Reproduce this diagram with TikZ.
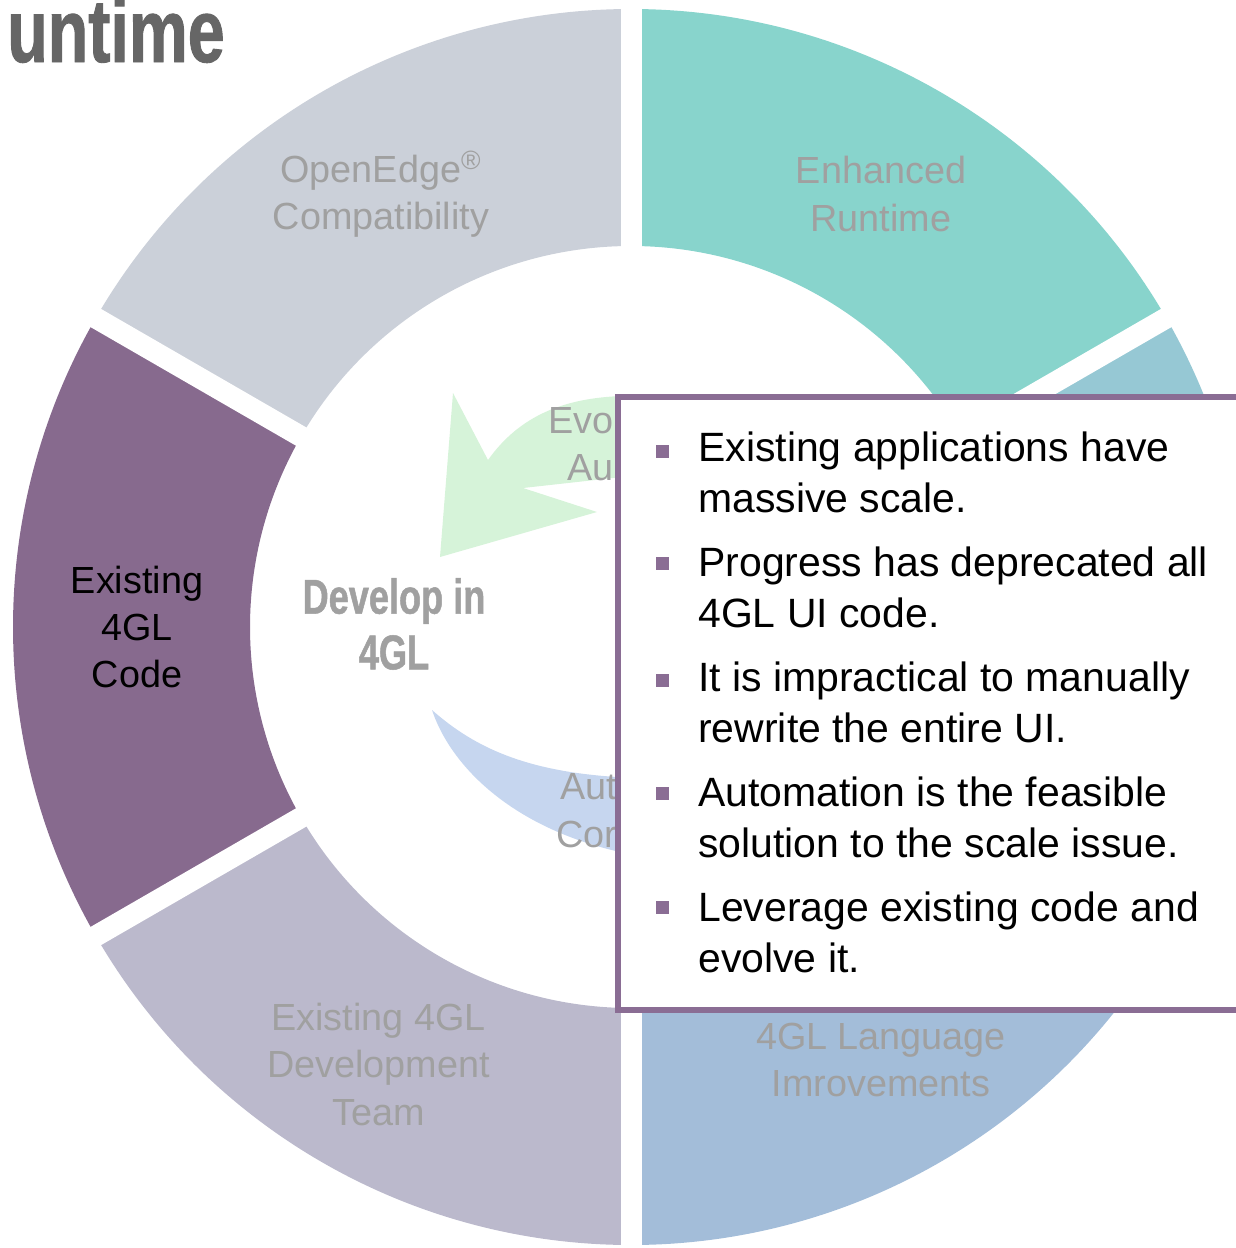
\documentclass[tikz,border=0pt]{standalone}
\usepackage{fontspec}
\setmainfont{Liberation Sans}
\newfontfamily\condfont{Liberation Sans}[FakeStretch=0.74,FakeBold=1]
\usetikzlibrary{positioning}

\definecolor{segcompat}{HTML}{CBD0D9}
\definecolor{segruntime}{HTML}{88D4CC}
\definecolor{segright}{HTML}{96C8D4}
\definecolor{seglang}{HTML}{A3BDD9}
\definecolor{segteam}{HTML}{BBB9CC}
\definecolor{segcode}{HTML}{876A8E}
\definecolor{fadetext}{HTML}{A0A0A0}
\definecolor{evolvefill}{HTML}{D6F3D9}
\definecolor{convertfill}{HTML}{C6D6EF}
\definecolor{callout}{HTML}{8A6D94}
\definecolor{titlegray}{HTML}{666666}

\tikzset{
  seglabel/.style={align=center, text=fadetext, inner sep=0pt, font=\fontsize{21.5}{26.9}\selectfont},
  bullettext/.style={anchor=base west, align=left, inner sep=0pt, font=\fontsize{23.3}{28.9}\selectfont},
  bulletsq/.style={fill=callout, minimum size=0.26cm, inner sep=0pt},
  ringgap/.style={white, line width=0.42cm},
}

\begin{document}
\begin{tikzpicture}[x=0.02cm, y=0.02cm]
\useasboundingbox (0,0) rectangle (1235,-1248);
\coordinate (c) at (631,-627);

% ring of six segments
\begin{scope}[shift={(c)}]
  \foreach \a/\col in {30/segruntime, 90/segcompat, 150/segcode, 210/segteam, 270/seglang, 330/segright}
    \fill[\col] (\a:618) arc[start angle=\a, end angle={\a+60}, radius=618]
      -- ({\a+60}:381) arc[start angle={\a+60}, end angle=\a, radius=381] -- cycle;
  \foreach \a in {30,90,...,330}
    \draw[ringgap] (\a:370) -- (\a:630);

  \node[seglabel] (compat) at (120:500) {OpenEdge\textsuperscript{\textregistered}\\Compatibility};
  \node[seglabel] (runtime) at (60:500) {Enhanced\\Runtime};
  \node[seglabel, text=black] (code) at (180:494) {Existing\\4GL\\Code};
  \node[seglabel] (team) at (240:505) {Existing 4GL\\Development\\Team};
  \node[seglabel] (lang) at (300:500) {4GL Language\\Imrovements};
\end{scope}

\node[anchor=base east, inner sep=0pt, text=titlegray, font=\condfont\bfseries\fontsize{51}{51}\selectfont] (title) at (225,-62) {untime};
\node[align=center, text=fadetext, inner sep=0pt, font=\condfont\bfseries\fontsize{27.8}{31.7}\selectfont] (develop) at (394,-624) {Develop in\\4GL};

% the two curved arrows
\fill[evolvefill] (453,-393) -- (440,-557) -- (597,-512) -- (523,-488) -- (640,-475) -- (640,-398)
  -- (622,-396) .. controls (565,-398) and (520,-415) .. (488,-460) -- cycle;
\node[seglabel, anchor=west] (evo) at (548,-421) {Evo};
\node[seglabel, anchor=west] (au) at (567,-468) {Au};

\fill[convertfill] (432,-710) .. controls (475,-748) and (530,-775) .. (640,-778) -- (640,-856)
  .. controls (520,-835) and (452,-770) .. (432,-710) -- cycle;
\node[seglabel, anchor=west] (aut) at (560,-787) {Aut};
\node[seglabel, anchor=west] (cor) at (556,-834) {Cor};

% callout
\draw[callout, line width=0.11cm, fill=white] (618,-397) rectangle (1300,-1010);
\node[bulletsq] (s1) at (662,-451) {};
\node[bulletsq] (s2) at (662,-563) {};
\node[bulletsq] (s3) at (662,-680) {};
\node[bulletsq] (s4) at (662,-793) {};
\node[bulletsq] (s5) at (662,-907) {};
\node[bullettext] (b1) at (698,-512) {Existing applications have\\massive scale.};
\node[bullettext] (b2) at (698,-627) {Progress has deprecated all\\4GL UI code.};
\node[bullettext] (b3) at (698,-742) {It is impractical to manually\\rewrite the entire UI.};
\node[bullettext] (b4) at (698,-857) {Automation is the feasible\\solution to the scale issue.};
\node[bullettext] (b5) at (698,-972) {Leverage existing code and\\evolve it.};
\end{tikzpicture}
\end{document}
